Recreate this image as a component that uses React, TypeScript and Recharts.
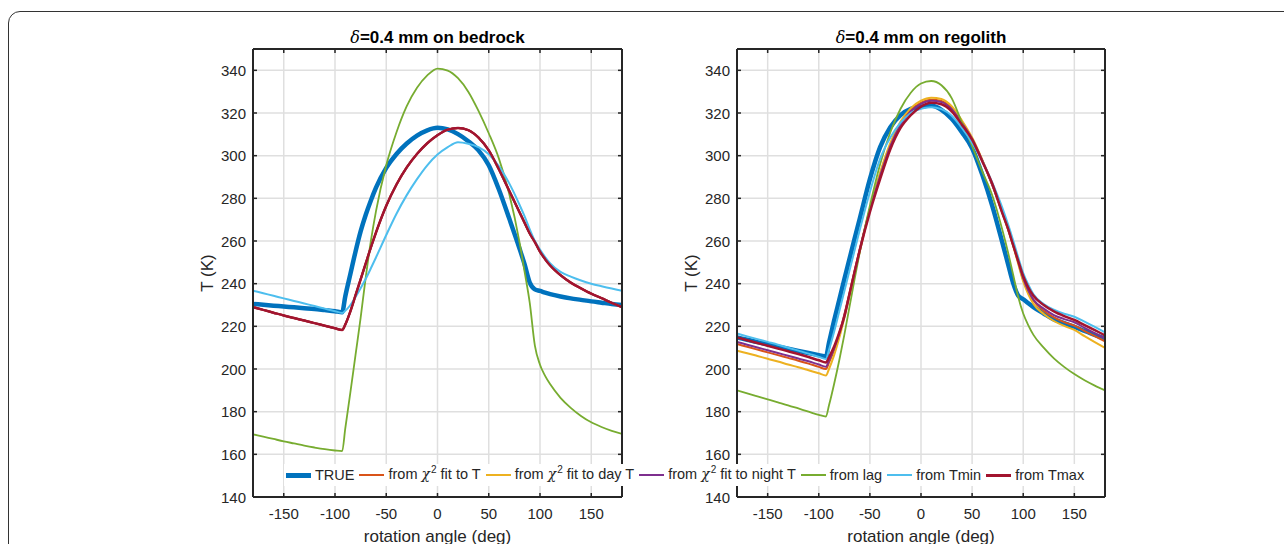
import React from 'react'
import { LineChart, Line, XAxis, YAxis, CartesianGrid, Legend } from 'recharts'

const FONT = '"Liberation Sans", Arial, Helvetica, sans-serif'
const INK = '#262626'
const GRID = '#dfdfdf'

const angle = [-180, -170, -160, -150, -140, -130, -120, -110, -100, -93, -90, -85, -80, -75, -70, -65, -60, -50, -40, -30, -20, -10, 0, 10, 20, 30, 40, 50, 60, 70, 80, 85, 90, 95, 100, 105, 110, 120, 130, 140, 150, 160, 170, 180]
const xTicks = [-150, -100, -50, 0, 50, 100, 150]
const yTicks = [140, 160, 180, 200, 220, 240, 260, 280, 300, 320, 340]

// delta = 0.4 mm on bedrock
const trueBedrock = [230.5, 230.1, 229.7, 229.3, 228.9, 228.5, 228.1, 227.6, 227.1, 226.6, 234, 244.5, 255, 264.5, 272.3, 279, 285, 294.3, 300.8, 305.7, 309.4, 311.9, 313.1, 312.3, 310.1, 306.8, 302.5, 295.5, 284, 270.5, 256.5, 249, 240.5, 237.3, 236.6, 235.8, 235.1, 234, 233.1, 232.4, 231.7, 231.1, 230.5, 230]
const tmaxBedrock = [229, 227.7, 226.4, 225.1, 223.9, 222.7, 221.5, 220.3, 219.1, 218.3, 220.8, 227, 234.5, 242, 249.5, 257, 264, 276.5, 286.5, 294.5, 300.8, 305.8, 309.6, 312.2, 313, 312, 308.5, 302.5, 293.5, 283.5, 273.5, 268.5, 263.5, 259.5, 255, 251.5, 248.5, 244, 240.5, 237.8, 235.3, 233.2, 231, 229]
// the three chi2 fits lie under the Tmax curve on bedrock
const fitTBedrock = [229, 227.7, 226.4, 225.1, 223.9, 222.7, 221.5, 220.3, 219.1, 218.3, 220.8, 227, 234.5, 242, 249.5, 257, 264, 276.5, 286.5, 294.5, 300.8, 305.8, 309.6, 312.2, 313, 312, 308.5, 302.5, 293.5, 283.5, 273.5, 268.5, 263.5, 259.5, 255, 251.5, 248.5, 244, 240.5, 237.8, 235.3, 233.2, 231, 229]
const fitDayBedrock = [229, 227.7, 226.4, 225.1, 223.9, 222.7, 221.5, 220.3, 219.1, 218.3, 220.8, 227, 234.5, 242, 249.5, 257, 264, 276.5, 286.5, 294.5, 300.8, 305.8, 309.6, 312.2, 313, 312, 308.5, 302.5, 293.5, 283.5, 273.5, 268.5, 263.5, 259.5, 255, 251.5, 248.5, 244, 240.5, 237.8, 235.3, 233.2, 231, 229]
const fitNightBedrock = [229, 227.7, 226.4, 225.1, 223.9, 222.7, 221.5, 220.3, 219.1, 218.3, 220.8, 227, 234.5, 242, 249.5, 257, 264, 276.5, 286.5, 294.5, 300.8, 305.8, 309.6, 312.2, 313, 312, 308.5, 302.5, 293.5, 283.5, 273.5, 268.5, 263.5, 259.5, 255, 251.5, 248.5, 244, 240.5, 237.8, 235.3, 233.2, 231, 229]
const tminBedrock = [236.7, 235.5, 234.3, 233.1, 231.9, 230.7, 229.5, 228.3, 227.1, 226.3, 227.3, 230, 233.8, 237.9, 242.3, 247.2, 252.3, 262.8, 272.8, 281.5, 289, 295.5, 300.5, 304, 306.3, 305.6, 304, 300.7, 295, 287, 277, 271.5, 265.5, 260, 256, 252.5, 249.5, 245.5, 243.3, 241.5, 240, 238.8, 237.7, 236.7]
const lagBedrock = [169.4, 168.3, 167.2, 166.1, 165.1, 164.1, 163.2, 162.4, 161.8, 161.5, 172, 189, 206.5, 224, 243, 260, 274, 295.5, 311, 323.2, 331.8, 337.6, 340.8, 339.9, 336.3, 330, 321, 310.5, 298.5, 282, 259.5, 245.5, 231, 211, 202, 196.8, 192.8, 186.5, 181.8, 178, 175, 172.8, 171, 169.6]

// delta = 0.4 mm on regolith
const trueRegolith = [214.8, 213.7, 212.6, 211.6, 210.5, 209.5, 208.5, 207.5, 206.5, 205.8, 212.3, 222.7, 232.3, 242, 251.5, 261, 270.3, 289, 304, 313.3, 319, 322, 322.9, 323.5, 321.5, 317.3, 311, 303.5, 291, 276, 258.5, 249.5, 240.5, 234.5, 232.7, 230.8, 229, 226, 223.2, 221.5, 219.8, 217.8, 216, 214.2]
const fitTRegolith = [211.7, 210.4, 209.1, 207.8, 206.5, 205.2, 203.9, 202.5, 201, 200, 203, 209, 216.5, 225.5, 235.5, 246, 256, 275, 291.5, 305, 315, 321.3, 324.8, 326.2, 325.6, 322.3, 315.8, 308, 297.8, 286, 272.8, 265.8, 258.3, 250, 241.8, 236, 232, 227.3, 224.2, 222, 220.3, 217.8, 215.4, 213]
const fitDayRegolith = [208.6, 207.4, 206.1, 204.8, 203.5, 202.1, 200.8, 199.4, 198, 197, 200, 206.5, 214.5, 224, 234, 244.5, 255, 274.5, 292, 306, 316, 322.3, 325.8, 327.2, 326.6, 323.2, 316.5, 308.5, 298, 286, 272.5, 265.5, 258, 249.5, 241, 235, 230.5, 225.8, 222.5, 220.2, 218.3, 215.4, 212.6, 209.9]
const fitNightRegolith = [212.7, 211.4, 210.1, 208.8, 207.5, 206.2, 204.9, 203.6, 202.1, 201.1, 204, 209.5, 216.5, 225, 235, 245.5, 255.8, 274.5, 290.5, 304.5, 314.5, 320.8, 324.3, 325.7, 325.1, 321.8, 315.3, 307.8, 297.6, 286, 272.9, 266, 258.6, 250.5, 242.5, 236.8, 232.5, 228.3, 225.3, 223.4, 221.9, 219.3, 216.8, 214.4]
const lagRegolith = [190, 188.6, 187.2, 185.8, 184.4, 183, 181.5, 180, 178.5, 177.7, 183, 193, 204, 216, 229, 242, 254.5, 276.5, 296, 311, 322, 329.5, 333.8, 335, 333, 327, 315.5, 304.5, 292.5, 281, 264.5, 255, 244.5, 234, 226, 220.5, 216, 210, 205, 201, 197.6, 194.7, 192.2, 190]
const tminRegolith = [216.6, 215.3, 214, 212.7, 211.4, 210, 208.6, 207.2, 205.7, 204.7, 209, 217.5, 227, 236.5, 246, 255.5, 265, 283, 298.5, 308.5, 315.5, 320, 322, 322.7, 321.8, 318.7, 313, 306, 297.5, 287, 275, 268, 260.5, 252.5, 245, 239.5, 235, 230.5, 227.8, 225.9, 224.5, 222.2, 219.7, 217.2]
const tmaxRegolith = [214.8, 213.5, 212.2, 210.9, 209.6, 208.3, 207, 205.6, 204.1, 203.1, 205.5, 210.5, 217, 224.5, 235, 245.5, 255.5, 273.5, 289, 303, 313, 319, 323, 324.8, 324.1, 320.8, 314.5, 307.5, 297.3, 286.5, 272.5, 266, 258.3, 250.8, 243.5, 238.2, 234.3, 230, 227, 224.8, 223, 220.6, 218.2, 215.8]

const seriesKeys = ['truth', 'fitT', 'fitDay', 'fitNight', 'lag', 'tmin', 'tmax']
const seriesNames = ['TRUE', 'from χ2 fit to T', 'from χ2 fit to day T', 'from χ2 fit to night T', 'from lag', 'from Tmin', 'from Tmax']
const seriesColors = ['#0072BD', '#D95319', '#EDB120', '#7E2F8E', '#77AC30', '#4DBEEE', '#A2142F']
const seriesWidths = [4.5, 2, 2, 2, 1.8, 2, 2.5]

function toRows(cols: number[][]) {
  return angle.map((a, i) => {
    const row: Record<string, number> = { angle: a }
    seriesKeys.forEach((k, j) => {
      row[k] = cols[j][i]
    })
    return row
  })
}

const bedrockData = toRows([trueBedrock, fitTBedrock, fitDayBedrock, fitNightBedrock, lagBedrock, tminBedrock, tmaxBedrock])
const regolithData = toRows([trueRegolith, fitTRegolith, fitDayRegolith, fitNightRegolith, lagRegolith, tminRegolith, tmaxRegolith])

const GAP = 8 // tickMargin, used to find the axis line from the label position
const TICK = 4

const bottomTick = (p: any) => {
  const ay = p.y - GAP
  return (
    <g>
      <line x1={p.x} x2={p.x} y1={ay} y2={ay - TICK} stroke={INK} strokeWidth={1.5} />
      <text x={p.x} y={ay + 22} textAnchor="middle" fill={INK} fontSize={15} fontFamily={FONT}>
        {p.payload.value}
      </text>
    </g>
  )
}

const topTick = (p: any) => {
  const ay = p.y + GAP
  return <line x1={p.x} x2={p.x} y1={ay} y2={ay + TICK} stroke={INK} strokeWidth={1.5} />
}

const leftTick = (p: any) => {
  const ax = p.x + GAP
  return (
    <g>
      <line x1={ax} x2={ax + TICK} y1={p.y} y2={p.y} stroke={INK} strokeWidth={1.5} />
      <text x={ax - 7} y={p.y + 5.5} textAnchor="end" fill={INK} fontSize={15} fontFamily={FONT}>
        {p.payload.value}
      </text>
    </g>
  )
}

const rightTick = (p: any) => {
  const ax = p.x - GAP
  return <line x1={ax} x2={ax - TICK} y1={p.y} y2={p.y} stroke={INK} strokeWidth={1.5} />
}

function legendText(name: string) {
  if (!name.includes('χ2')) return name
  const [before, after] = name.split('χ2')
  return (
    <>
      {before}
      <i style={{ fontFamily: '"DejaVu Serif", serif', fontSize: 14 }}>χ</i>
      <span style={{ position: 'relative', top: -6, fontSize: 10, marginLeft: 1 }}>2</span>
      {after}
    </>
  )
}

function LegendRow() {
  return (
    <div
      style={{
        display: 'flex',
        alignItems: 'center',
        background: '#fff',
        fontFamily: FONT,
        fontSize: 14.5,
        color: INK,
        whiteSpace: 'nowrap',
        lineHeight: '20px',
        padding: '0 2px',
      }}
    >
      {seriesNames.map((name, i) => (
        <div key={name} style={{ display: 'flex', alignItems: 'center', marginRight: 5 }}>
          <span
            style={{
              display: 'inline-block',
              width: 25,
              height: Math.round(seriesWidths[i]),
              background: seriesColors[i],
              marginRight: 4,
            }}
          />
          <span>{legendText(name)}</span>
        </div>
      ))}
    </div>
  )
}

type PanelProps = {
  data: Record<string, number>[]
  left: number
  width: number
  marginLeft: number
  marginRight: number
  title: string
  withLegend: boolean
  z: number
}

function Panel({ data, left, width, marginLeft, marginRight, title, withLegend, z }: PanelProps) {
  const plotLeft = left + marginLeft + 60
  const plotWidth = width - marginLeft - marginRight - 62
  return (
    <>
      <div
        style={{
          position: 'absolute',
          left: plotLeft,
          width: plotWidth,
          top: 28,
          textAlign: 'center',
          fontSize: 17,
          fontWeight: 'bold',
          lineHeight: '20px',
          color: '#000',
          fontFamily: FONT,
        }}
      >
        <span style={{ fontStyle: 'italic', fontWeight: 'normal', fontFamily: '"DejaVu Serif", serif', fontSize: 16 }}>δ</span>
        {title}
      </div>
      <div style={{ position: 'absolute', left, top: 0, zIndex: z }}>
        <LineChart
          width={width}
          height={544}
          data={data}
          margin={{ top: 47, right: marginRight, bottom: 7, left: marginLeft }}
          style={{ fontFamily: FONT }}
        >
          <CartesianGrid stroke={GRID} strokeWidth={1.5} />
          <XAxis
            dataKey="angle"
            type="number"
            domain={[-180, 180]}
            ticks={xTicks}
            allowDataOverflow
            height={40}
            tickSize={0}
            tickMargin={GAP}
            tick={bottomTick}
            axisLine={{ stroke: INK, strokeWidth: 2 }}
            label={{ value: 'rotation angle (deg)', position: 'insideBottom', offset: -5, fill: INK, fontSize: 17 }}
          />
          <XAxis
            xAxisId="top"
            orientation="top"
            dataKey="angle"
            type="number"
            domain={[-180, 180]}
            ticks={xTicks}
            allowDataOverflow
            height={2}
            tickSize={0}
            tickMargin={GAP}
            tick={topTick}
            axisLine={{ stroke: INK, strokeWidth: 2 }}
          />
          <YAxis
            type="number"
            domain={[140, 350]}
            ticks={yTicks}
            allowDataOverflow
            width={60}
            tickSize={0}
            tickMargin={GAP}
            tick={leftTick}
            axisLine={{ stroke: INK, strokeWidth: 2 }}
            label={{ value: 'T (K)', angle: -90, position: 'insideLeft', offset: 14, textAnchor: 'middle', fill: INK, fontSize: 17 }}
          />
          <YAxis
            yAxisId="right"
            orientation="right"
            type="number"
            domain={[140, 350]}
            ticks={yTicks}
            allowDataOverflow
            width={2}
            tickSize={0}
            tickMargin={GAP}
            tick={rightTick}
            axisLine={{ stroke: INK, strokeWidth: 2 }}
          />
          {seriesKeys.map((k, i) => (
            <Line
              key={k}
              dataKey={k}
              name={seriesNames[i]}
              type="monotone"
              stroke={seriesColors[i]}
              strokeWidth={seriesWidths[i]}
              strokeLinejoin="round"
              dot={false}
              activeDot={false}
              isAnimationActive={false}
            />
          ))}
          {withLegend && (
            <Legend
              layout="horizontal"
              verticalAlign="middle"
              align="center"
              wrapperStyle={{ left: 284, top: 464, width: 'max-content', height: 'auto' }}
              content={LegendRow}
            />
          )}
        </LineChart>
      </div>
    </>
  )
}

export default function App() {
  return (
    <div
      style={{
        position: 'fixed',
        left: 0,
        top: 0,
        width: 1284,
        height: 544,
        overflow: 'hidden',
        background: '#fff',
        fontFamily: FONT,
      }}
    >
      <div
        style={{
          position: 'absolute',
          left: 8,
          top: 11,
          width: 1300,
          height: 560,
          border: '1.5px solid #333',
          borderRadius: 12,
        }}
      />
      <Panel data={bedrockData} left={0} width={640} marginLeft={193} marginRight={16} title="=0.4 mm on bedrock" withLegend z={2} />
      <Panel data={regolithData} left={640} width={644} marginLeft={37} marginRight={177} title="=0.4 mm on regolith" withLegend={false} z={1} />
    </div>
  )
}
